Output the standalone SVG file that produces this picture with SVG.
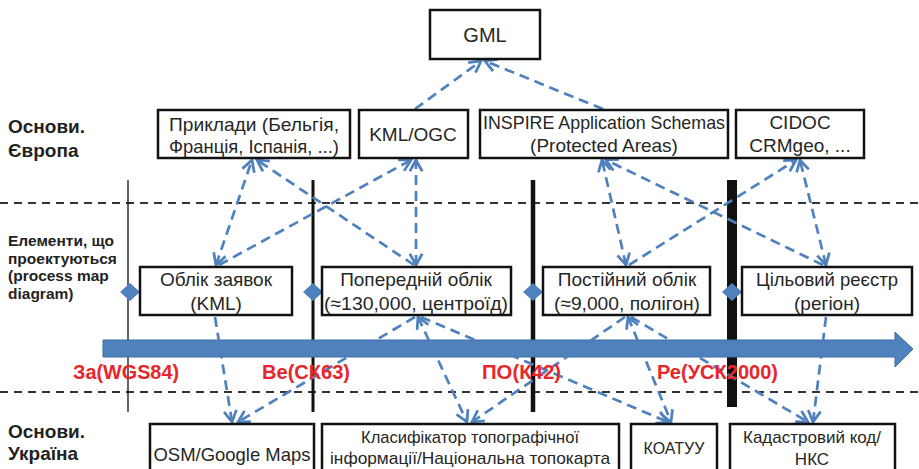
<svg xmlns="http://www.w3.org/2000/svg" width="919" height="469" viewBox="0 0 919 469">
<style>
.box{fill:#fff;stroke:#111;stroke-width:2.5}
.bt{font-family:"Liberation Sans",Arial,sans-serif;font-size:19px;fill:#262626;text-anchor:middle}
.bs{font-size:17px}
.lab{font-family:"Liberation Sans",Arial,sans-serif;font-weight:bold;fill:#222}
.red{font-family:"Liberation Sans",Arial,sans-serif;font-weight:bold;font-size:21px;fill:#E8262B}
.sep{stroke:#333;stroke-width:2;stroke-dasharray:8 6}
.con{fill:none;stroke:#4F81BD;stroke-width:2.7;stroke-dasharray:10 6}
.dia{fill:#4F81BD}
</style>
<defs>
<marker id="ah" markerUnits="userSpaceOnUse" markerWidth="15" markerHeight="15" viewBox="0 0 12 12" refX="10" refY="6" orient="auto-start-reverse">
<path d="M1,1 L10,6 L1,11" fill="none" stroke="#4F81BD" stroke-width="2.2"/>
</marker>
</defs>

<g id="separators">
<line class="sep" x1="0" y1="203" x2="919" y2="203"/>
<line class="sep" x1="0" y1="392" x2="919" y2="392"/>
</g>

<g id="phase-lines" stroke="#111">
<line x1="128" y1="180" x2="128" y2="412" stroke-width="1.3"/>
<line x1="313" y1="180" x2="313" y2="412" stroke-width="3"/>
<line x1="533" y1="180" x2="533" y2="412" stroke-width="4.5"/>
<line x1="732" y1="180" x2="732" y2="407" stroke-width="10"/>
</g>

<g id="timeline">
<polygon points="103,340 895,340 895,332 913,349 895,367 895,357 103,357" fill="#4F81BD" stroke="#3D6DA6" stroke-width="1"/>
</g>

<g id="connectors">
<path class="con" d="M415,109 L481,61" marker-end="url(#ah)"/>
<path class="con" d="M603,109 L485,61" marker-end="url(#ah)"/>
<path class="con" d="M216,265 L252,160" marker-start="url(#ah)" marker-end="url(#ah)"/>
<path class="con" d="M414,265 L257,160" marker-end="url(#ah)"/>
<path class="con" d="M219,265 L411,160" marker-end="url(#ah)"/>
<path class="con" d="M416,265 L416,160" marker-start="url(#ah)" marker-end="url(#ah)"/>
<path class="con" d="M626,265 L602,160" marker-start="url(#ah)" marker-end="url(#ah)"/>
<path class="con" d="M823,265 L606,160" marker-end="url(#ah)"/>
<path class="con" d="M629,265 L796,160" marker-end="url(#ah)"/>
<path class="con" d="M826,265 L800,160" marker-start="url(#ah)" marker-end="url(#ah)"/>
<path class="con" d="M215,317 L232,422" marker-end="url(#ah)"/>
<path class="con" d="M415,317 L238,422" marker-end="url(#ah)"/>
<path class="con" d="M418,317 L467,422" marker-start="url(#ah)" marker-end="url(#ah)"/>
<path class="con" d="M421,317 L668,422" marker-end="url(#ah)"/>
<path class="con" d="M625,317 L472,422" marker-end="url(#ah)"/>
<path class="con" d="M628,317 L671,422" marker-start="url(#ah)" marker-end="url(#ah)"/>
<path class="con" d="M631,317 L808,422" marker-end="url(#ah)"/>
<path class="con" d="M826,317 L813,422" marker-end="url(#ah)"/>
</g>

<g id="milestones">
<polygon class="dia" points="130,283 140,292 130,301 120,292"/>
<polygon class="dia" points="313,283 323,292 313,301 303,292"/>
<polygon class="dia" points="533,283 543,292 533,301 523,292"/>
<polygon class="dia" points="732,283 742,292 732,301 722,292"/>
</g>

<g id="node-gml"><rect class="box" x="430" y="10" width="110" height="49"/><text class="bt" x="485" y="42" style="font-size:20px">GML</text></g>
<g id="node-pryklady"><rect class="box" x="158" y="110" width="192" height="48"/><text class="bt" x="254" y="131" textLength="170" lengthAdjust="spacingAndGlyphs">Приклади (Бельгія,</text><text class="bt" x="254" y="153" textLength="170" lengthAdjust="spacingAndGlyphs">Франція, Іспанія, ...)</text></g>
<g id="node-kml-ogc"><rect class="box" x="359" y="110" width="109" height="48"/><text class="bt" x="413" y="141">KML/OGC</text></g>
<g id="node-inspire"><rect class="box" x="480" y="110" width="248" height="48"/><text class="bt" x="604" y="129" textLength="242" lengthAdjust="spacingAndGlyphs">INSPIRE Application Schemas</text><text class="bt" x="604" y="152">(Protected Areas)</text></g>
<g id="node-cidoc"><rect class="box" x="736" y="110" width="128" height="48"/><text class="bt" x="800" y="129">CIDOC</text><text class="bt" x="800" y="152">CRMgeo, ...</text></g>

<g id="node-oblik-zayavok"><rect class="box" x="140" y="267" width="152" height="48"/><text class="bt" x="216" y="286">Облік заявок</text><text class="bt" x="216" y="310">(KML)</text></g>
<g id="node-poperednii"><rect class="box" x="322" y="267" width="189" height="48"/><text class="bt" x="416" y="286">Попередній облік</text><text class="bt" x="416" y="310" textLength="184" lengthAdjust="spacingAndGlyphs">(≈130,000, центроїд)</text></g>
<g id="node-postiinyi"><rect class="box" x="543" y="267" width="167" height="48"/><text class="bt" x="627" y="286">Постійний облік</text><text class="bt" x="627" y="310" textLength="146" lengthAdjust="spacingAndGlyphs">(≈9,000, полігон)</text></g>
<g id="node-tsilovyi"><rect class="box" x="742" y="267" width="170" height="48"/><text class="bt" x="827" y="286" textLength="142" lengthAdjust="spacingAndGlyphs">Цільовий реєстр</text><text class="bt" x="827" y="310">(регіон)</text></g>

<g id="node-osm"><rect class="box" x="150" y="424" width="164" height="52"/><text class="bt" x="232" y="461" textLength="157" lengthAdjust="spacingAndGlyphs">OSM/Google Maps</text></g>
<g id="node-klasyfikator"><rect class="box" x="322" y="424" width="297" height="52"/><text class="bt bs" x="470" y="443" textLength="218" lengthAdjust="spacingAndGlyphs">Класифікатор топографічної</text><text class="bt bs" x="470" y="464" textLength="280" lengthAdjust="spacingAndGlyphs">інформації/Національна топокарта</text></g>
<g id="node-koatuu"><rect class="box" x="631" y="424" width="86" height="52"/><text class="bt" x="674" y="454" style="font-size:16px">КОАТУУ</text></g>
<g id="node-kadastr"><rect class="box" x="730" y="424" width="165" height="52"/><text class="bt bs" x="812" y="443">Кадастровий код/</text><text class="bt bs" x="812" y="465">НКС</text></g>

<g id="phase-labels">
<text class="red" x="73" y="379" textLength="106" lengthAdjust="spacingAndGlyphs">За(WGS84)</text>
<text class="red" x="262" y="379" textLength="88" lengthAdjust="spacingAndGlyphs">Ве(СК63)</text>
<text class="red" x="482" y="379" textLength="79" lengthAdjust="spacingAndGlyphs">ПО(К42)</text>
<text class="red" x="657" y="379" textLength="121" lengthAdjust="spacingAndGlyphs">Ре(УСК2000)</text>
</g>

<g id="row-labels">
<text class="lab" x="8" y="133" font-size="19">Основи.</text>
<text class="lab" x="8" y="157" font-size="19">Європа</text>
<text class="lab" x="8" y="246" font-size="15.5">Елементи, що</text>
<text class="lab" x="8" y="263.5" font-size="15.5">проектуються</text>
<text class="lab" x="8" y="281" font-size="15.5">(process map</text>
<text class="lab" x="8" y="298.5" font-size="15.5">diagram)</text>
<text class="lab" x="8" y="438" font-size="19">Основи.</text>
<text class="lab" x="8" y="460" font-size="19">Україна</text>
</g>
</svg>
